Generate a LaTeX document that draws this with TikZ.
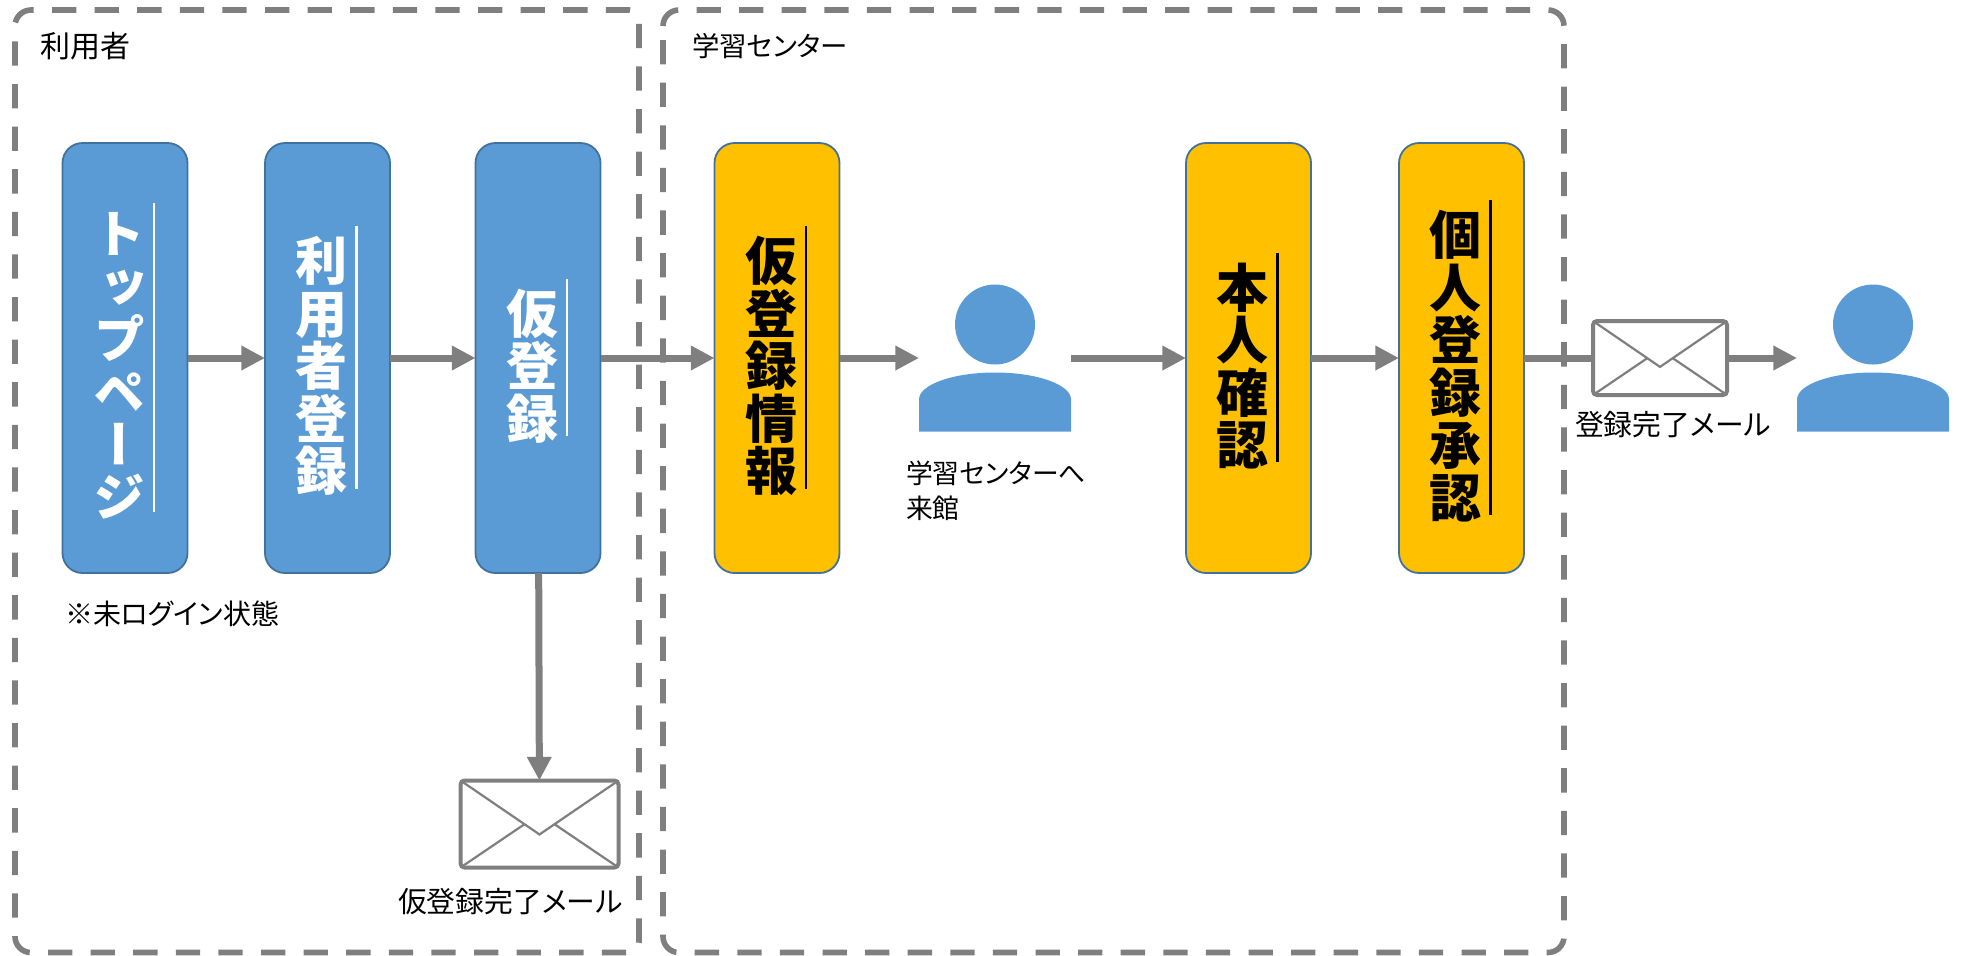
\documentclass[tikz,border=0pt]{standalone}
\usepackage{fontspec}
\setmainfont{Noto Sans CJK JP}[RawFeature=+palt]
\newfontfamily\stackfont{Noto Sans CJK JP}[RawFeature=+vert]
\definecolor{myblue}{RGB}{91,155,213}
\definecolor{myedge}{RGB}{65,113,156}
\definecolor{myyellow}{RGB}{255,192,0}
\definecolor{mygray}{RGB}{127,127,127}
\usetikzlibrary{positioning,calc,arrows.meta}

\newcommand{\mailicon}[1]{
  \coordinate (#1v) at ($(#1.north)!0.62!(#1.south)$);
  \draw[mygray,line width=1.1pt] (#1.north west) -- (#1v) -- (#1.north east);
  \draw[mygray,line width=1.1pt] (#1.south west) -- ($(#1.north west)!0.81!(#1v)$);
  \draw[mygray,line width=1.1pt] (#1.south east) -- ($(#1.north east)!0.81!(#1v)$);
}
\newcommand{\personicon}[1]{
  \fill[myblue] ([yshift=-20pt]#1.north) circle (20pt);
  \fill[myblue] (#1.south west) -- ++(0,16pt)
    arc[start angle=180,end angle=0,x radius=38pt,y radius=13.5pt]
    -- (#1.south east) -- cycle;
}

\begin{document}
\begin{tikzpicture}[x=.5pt,y=-.5pt,
  every node/.style={inner sep=0pt,outer sep=0pt},
  framebox/.style={draw=mygray,line width=2.8pt,rounded corners=8pt,dash pattern=on 12.15pt off 9.15pt},
  stepbox/.style={draw=myedge,line width=.9pt,rounded corners=10pt,minimum width=62.5pt,minimum height=215pt},
  userbox/.style={stepbox,fill=myblue},
  staffbox/.style={stepbox,fill=myyellow},
  vtext/.style={font=\stackfont\bfseries\fontsize{26}{26.3}\selectfont,align=center},
  caption/.style={font=\fontsize{#1}{17.5}\selectfont,align=left},
  caption/.default=14,
  mailbox/.style={draw=mygray,fill=white,line width=2pt,rounded corners=2pt},
  personbox/.style={minimum width=76pt,minimum height=73.5pt},
  flow/.style={draw=mygray,line width=3.5pt,-{Triangle[length=11.8pt,width=11.6pt]}}
]
\useasboundingbox (0,0) rectangle (1962,955);

% Frames
\draw[framebox,dash phase=19.55pt] (15,26) |- (300,10) [rounded corners=5pt] -| (639,300)
  |- (300,952.5) [rounded corners=8pt] -| (15,600) -- (15,26);
\draw[framebox] (663,26) |- (1564,10) |- (663,952.5) -- (663,26);
\node[caption=15,anchor=west] (luser) at (40,46) {利用者};
\node[caption=13.7,anchor=west] (lcenter) at (692,46) {学習センター};

% Steps
\foreach \n/\x/\s/\c/\t in {
  top/125/userbox/white/{ト\\ッ\\プ\\ペ\\ー\\ジ},
  regist/327.5/userbox/white/{利\\用\\者\\登\\録},
  temp/538/userbox/white/{仮\\登\\録},
  info/777/staffbox/black/{仮\\登\\録\\情\\報},
  check/1248.5/staffbox/black/{本\\人\\確\\認},
  approve/1461.5/staffbox/black/{個\\人\\登\\録\\承\\認}}{
  \node[\s] (\n) at (\x,358) {};
  \node[vtext,\c] (\n t) at ([xshift=-3pt,yshift=-4pt]\n) {\t};
  \draw[\c,line width=1.1pt] ($(\n t.north east)+(4.5pt,5pt)$) -- ($(\n t.south east)+(4.5pt,3.5pt)$);
}
\node[caption,anchor=west] (lnote) at (65,614) {※未ログイン状態};

% Visitors
\node[personbox] (visitor) at (995,358) {};
\personicon{visitor}
\node[personbox] (member) at (1873,358) {};
\personicon{member}
\node[caption=13.4,anchor=north west] (lvisit) at (906,461) {学習センターへ\\来館};

% Mails
\node[mailbox,minimum width=79pt,minimum height=43.5pt] (mail1) at (539.5,824) {};
\mailicon{mail1}
\node[mailbox,minimum width=67pt,minimum height=37pt] (mail2) at (1660,358) {};
\mailicon{mail2}
\node[caption=14.4,anchor=west] (lmail1) at (398,902) {仮登録完了メール};
\node[caption=14.4,anchor=west] (lmail2) at (1575,425) {登録完了メール};

% Edges
\draw[flow] (top) -- (regist);
\draw[flow] (regist) -- (temp);
\draw[flow] (temp) -- (info);
\draw[flow] (info) -- (visitor);
\draw[flow] (visitor) -- (check);
\draw[flow] (check) -- (approve);
\draw[flow,-] (approve) -- (mail2);
\draw[flow] (mail2) -- (member);
\draw[flow] (temp) -- (mail1);
\end{tikzpicture}
\end{document}
